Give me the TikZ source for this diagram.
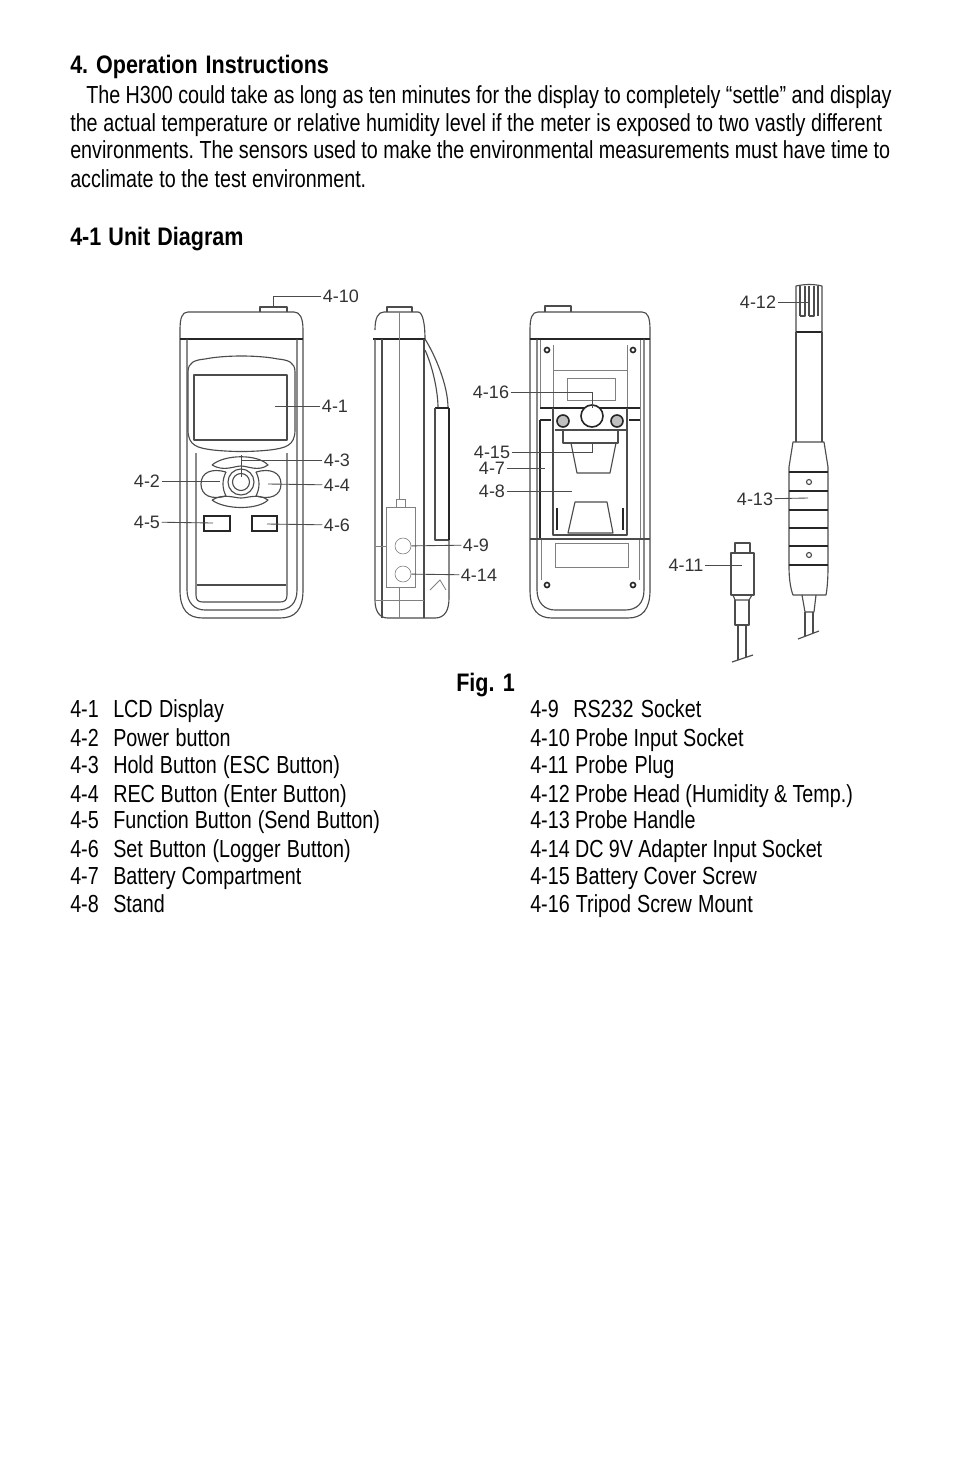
\documentclass[tikz,border=0pt]{standalone}
\usepackage{fontspec}
\setmainfont[FakeStretch=0.8]{Liberation Sans}
\newfontfamily\tagfont{Liberation Sans}
\newfontfamily\headfont[FakeStretch=0.85]{Liberation Sans}
\newcommand{\fit}[2]{\makebox[#1][s]{#2}}
\tikzset{
	body/.style={anchor=base west, inner sep=0pt, font=\fontsize{18.5}{20}\selectfont\frenchspacing},
	head/.style={anchor=base west, inner sep=0pt, font=\fontsize{19}{20}\headfont\bfseries\frenchspacing},
	tag/.style={inner sep=1pt, text=black!80, font=\fontsize{13.5}{14}\tagfont},
	lead/.style={draw=black!70, line width=0.65pt},
	part/.style={draw=black!70, line width=0.85pt, line join=round},
	thin part/.style={draw=black!50, line width=0.6pt},
	thick part/.style={draw=black!85, line width=1.2pt}
}
\begin{document}
\begin{tikzpicture}[x=0.75pt,y=-0.75pt]
	\useasboundingbox [fill=white] (0,0) rectangle (954,1475);

	% page text
	\node [head] (t1) at (70,73) {\fit{194pt}{4. Operation Instructions}};
	\node [body] (t2) at (86,103) {\fit{604pt}{The H300 could take as long as ten minutes for the display to completely “settle” and display}};
	\node [body] (t3) at (70,131) {\fit{609pt}{the actual temperature or relative humidity level if the meter is exposed to two vastly different}};
	\node [body] (t4) at (70,158) {\fit{615pt}{environments. The sensors used to make the environmental measurements must have time to}};
	\node [body] (t5) at (70,187) {\fit{222pt}{acclimate to the test environment.}};
	\node [head] (t6) at (70,245) {\fit{130pt}{4-1 Unit Diagram}};
	\node [head] (fig) at (456,691) {\fit{44pt}{Fig. 1}};

	\foreach \y/\n/\w/\t in {717/1/83/LCD Display, 746/2/88/Power button, 773/3/170/Hold Button (ESC Button),
		802/4/175/REC Button (Enter Button), 828/5/200/Function Button (Send Button),
		857/6/178/Set Button (Logger Button), 884/7/141/Battery Compartment, 912/8/39/Stand}
	{
		\node [body] (a\n) at (70,\y) {4-\n};
		\node [body] (b\n) at (113,\y) {\fit{\w pt}{\t}};
	}
	\node [body] (a9) at (530,717) {4-9};
	\node [body] (b9) at (573,717) {\fit{96pt}{RS232 Socket}};
	\foreach \y/\n/\w/\t in {746/10/160/Probe Input Socket, 773/11/108/Probe Plug,
		802/12/242/Probe Head (Humidity \& Temp.), 828/13/124/Probe Handle,
		857/14/219/DC 9V Adapter Input Socket, 884/15/170/Battery Cover Screw, 912/16/167/Tripod Screw Mount}
	{
		\node [body] (a\n) at (530,\y) {\fit{\w pt}{4-\n\ \t}};
	}

	% front view
	\draw [part] (180,330) .. controls (180,318) and (182,312) .. (188,312) -- (294,312)
		.. controls (300,312) and (303,318) .. (303,330) -- (303,590)
		.. controls (303,610) and (295,618) .. (280,618) -- (203,618)
		.. controls (188,618) and (180,610) .. (180,590) -- cycle;
	\draw [thick part] (180,339) -- (303,339);
	\draw [part] (187,339) -- (187,590) .. controls (187,603) and (195,610) .. (205,610) -- (278,610)
		.. controls (290,610) and (297,603) .. (297,590) -- (297,339);
	\draw [part] (188,372) .. controls (188,362) and (195,360) .. (205,359)
		.. controls (225,355) and (258,355) .. (278,359)
		.. controls (288,360) and (295,362) .. (295,372) -- (295,430)
		.. controls (295,446) and (285,448) .. (270,450)
		.. controls (250,452) and (233,452) .. (213,450)
		.. controls (198,448) and (188,446) .. (188,430) -- cycle;
	\draw [part] (194,375) rectangle (287,440);
	\draw [part] (196,453) -- (196,595) .. controls (196,600) and (198,602) .. (203,602) -- (280,602)
		.. controls (285,602) and (287,600) .. (287,595) -- (287,453);
	\draw [part] (197,585) -- (286,585);
	\draw [part] (241,482) circle (8.5);
	\draw [part] (241,482) circle (13);
	\draw [part] (226,472) .. controls (212,468) and (201,472) .. (201,484)
		.. controls (201,496) and (212,500) .. (226,496) .. controls (222,488) and (222,480) .. (226,472);
	\draw [part] (256,472) .. controls (270,468) and (281,472) .. (281,484)
		.. controls (281,496) and (270,500) .. (256,496) .. controls (260,488) and (260,480) .. (256,472);
	\draw [part] (212,465) .. controls (225,454) and (258,454) .. (268,465)
		.. controls (258,472) and (248,466) .. (241,466) .. controls (234,466) and (224,472) .. (212,465);
	\draw [part] (212,500) .. controls (224,493) and (234,498) .. (241,498)
		.. controls (248,498) and (258,493) .. (268,500) .. controls (258,510) and (225,510) .. (212,500);
	\draw [thick part] (204,516) rectangle (230,531);
	\draw [thick part] (252,516) rectangle (277,531);
	\draw [part] (260,312) -- (260,307) -- (287,307) -- (287,312);

	% side view
	\draw [part] (375,330) .. controls (375,318) and (378,312) .. (384,312) -- (418,312)
		.. controls (423,312) and (425,325) .. (425,339) -- (375,339);
	\draw [thick part] (373,339) -- (425,339);
	\draw [part] (375,339) -- (375,600) .. controls (375,612) and (380,618) .. (388,618) -- (435,618)
		.. controls (445,618) and (449,610) .. (449,598) -- (449,540);
	\draw [part] (425,339) .. controls (435,355) and (448,385) .. (448,408);
	\draw [part] (425,350) .. controls (432,365) and (438,390) .. (438,408);
	\draw [part] (424,339) -- (424,618);
	\draw [part] (382,339) -- (382,618);
	\draw [thin part] (399,312) -- (399,499);
	\draw [thin part] (399,587) -- (399,618);
	\draw [thick part] (435,408) -- (449,408);
	\draw [part] (435,408) -- (435,540) -- (449,540);
	\draw [thick part] (449,408) -- (449,540);
	\draw [part] (387,312) -- (387,307) -- (412,307) -- (412,312);
	\draw [thin part] (386,507) rectangle (415,587);
	\draw [thin part] (396,507) -- (396,499) -- (405,499) -- (405,507);
	\draw [thin part] (376,546) -- (386,546);
	\draw [thin part] (376,600) -- (424,600);
	\draw [thin part] (430,590) -- (440,580) -- (446,590);
	\node [draw=black!55, circle, minimum size=12pt, inner sep=0pt] (rs) at (403,546) {};
	\node [draw=black!55, circle, minimum size=12pt, inner sep=0pt] (dc) at (403,574) {};

	% back view
	\draw [part] (530,330) .. controls (530,318) and (532,312) .. (538,312) -- (642,312)
		.. controls (648,312) and (650,318) .. (650,330) -- (650,590)
		.. controls (650,610) and (642,618) .. (628,618) -- (552,618)
		.. controls (538,618) and (530,610) .. (530,590) -- cycle;
	\draw [thick part] (530,339) -- (650,339);
	\draw [part] (537,339) -- (537,590) .. controls (537,603) and (545,610) .. (555,610) -- (625,610)
		.. controls (637,610) and (644,603) .. (644,590) -- (644,339);
	\draw [part] (545,312) -- (545,306) -- (571,306) -- (571,312);
	\draw [thin part] (540,340) -- (540,408);
	\draw [thin part] (640,340) -- (640,539);
	\draw [thin part] (553,345) -- (553,408);
	\draw [thin part] (627,345) -- (627,408);
	\draw [thin part] (541,539) -- (541,580);
	\draw [thin part] (639,539) -- (639,580);
	\draw [thin part] (553,370) -- (627,370);
	\draw [thin part] (567,378) rectangle (615,400);
	\draw [thick part] (540,408) -- (640,408);
	\draw [thick part] (540,420) -- (551,420);
	\draw [thick part] (629,420) -- (640,420);
	\draw [thick part] (540,420) -- (540,539);
	\draw [part] (553,408) -- (553,535) -- (627,535) -- (627,408);
	\draw [part] (530,539) -- (650,539);
	\draw [thin part] (555,543) rectangle (628,567);
	\draw [thick part, fill=white] (592,416) circle (11);
	\draw [thick part, fill=black!25] (563,421) circle (6);
	\draw [thick part, fill=black!25] (617,421) circle (6);
	\draw [part] (555,430) -- (626,430);
	\draw [part] (563,430) -- (563,443) -- (618,443) -- (618,430);
	\draw [part] (571,443) -- (577,473) -- (610,473) -- (616,443);
	\draw [part] (575,502) -- (607,502) -- (613,533) -- (568,533) -- cycle;
	\draw [thick part] (557,508) -- (557,530);
	\draw [thick part] (623,508) -- (623,530);
	\foreach \x/\y in {547/350, 633/350, 547/585, 633/585}
		\draw [thick part] (\x,\y) circle (2.5);

	% probe
	\draw [part] (796,332) -- (796,286) .. controls (805,284) and (814,284) .. (822,286) -- (822,332);
	\draw [thick part] (796,332) -- (822,332);
	\draw [part] (800,286) -- (800,316);
	\draw [part] (805,286) -- (805,316) -- (800,316);
	\draw [part] (809,286) -- (809,316);
	\draw [part] (814,286) -- (814,316) -- (809,316);
	\draw [part] (818,286) -- (818,316);
	\draw [part] (796,332) -- (796,442);
	\draw [part] (822,332) -- (822,442);
	\draw [part] (793,442) -- (824,442) -- (828,467) -- (828,567) .. controls (828,580) and (827,590) .. (826,595)
		-- (793,595) .. controls (791,590) and (789,580) .. (789,567) -- (789,467) -- cycle;
	\foreach \y in {472, 491, 510, 528, 546, 565}
		\draw [thick part] (789,\y) -- (828,\y);
	\draw [part] (809,482) circle (2.5);
	\draw [part] (809,555) circle (2.5);
	\draw [part] (802,595) -- (805,612) -- (814,612) -- (816,595);
	\draw [part] (805,612) -- (805,636);
	\draw [part] (813,612) -- (813,633);
	\draw [part] (798,639) -- (819,631);

	% plug
	\draw [part] (735,553) -- (735,543) -- (750,543) -- (750,553);
	\draw [part] (731,553) -- (754,553) -- (754,595) -- (731,595) -- cycle;
	\draw [part] (733,595) -- (735,600) -- (749,600) -- (752,595);
	\draw [part] (735,600) -- (735,625) -- (749,625) -- (749,600);
	\draw [part] (738,625) -- (738,660);
	\draw [part] (746,625) -- (746,657);
	\draw [part] (732,662) -- (753,655);

	% labels and leaders
	\node [tag] (l1) at (335,406) {4-1};
	\node [tag] (l2) at (147,481) {4-2};
	\node [tag] (l3) at (337,460) {4-3};
	\node [tag] (l4) at (337,485) {4-4};
	\node [tag] (l5) at (147,522) {4-5};
	\node [tag] (l6) at (337,525) {4-6};
	\node [tag] (l7) at (492,468) {4-7};
	\node [tag] (l8) at (492,491) {4-8};
	\node [tag] (l9) at (476,545) {4-9};
	\node [tag] (l10) at (341,296) {4-10};
	\node [tag] (l11) at (686,565) {4-11};
	\node [tag] (l12) at (758,302) {4-12};
	\node [tag] (l13) at (755,499) {4-13};
	\node [tag] (l14) at (479,575) {4-14};
	\node [tag] (l15) at (492,452) {4-15};
	\node [tag] (l16) at (491,392) {4-16};
	\coordinate (p1) at (275,406);
	\coordinate (p2) at (220,481);
	\coordinate (p3) at (241,477);
	\coordinate (q3) at (241,455);
	\coordinate (p4) at (268,484);
	\coordinate (p5) at (213,523);
	\coordinate (p6) at (267,524);
	\coordinate (p7) at (545,468);
	\coordinate (p8) at (572,491);
	\coordinate (p10) at (273,307);
	\coordinate (p11) at (742,565);
	\coordinate (p12) at (808,302);
	\coordinate (p13) at (808,498);
	\coordinate (p15) at (592,443);
	\coordinate (p16) at (592,408);
	\draw [lead] (l1) -- (p1);
	\draw [lead] (l2) -- (p2);
	\draw [lead] (l3) -| (p3);
	\draw [lead] (q3) -- (p3);
	\draw [lead] (l4) -- (p4);
	\draw [lead] (l5) -- (p5);
	\draw [lead] (l6) -- (p6);
	\draw [lead] (l7) -- (p7);
	\draw [lead] (l8) -- (p8);
	\draw [lead] (l9) -- (rs);
	\draw [lead] (l10) -| (p10);
	\draw [lead] (l11) -- (p11);
	\draw [lead] (l12) -- (p12);
	\draw [lead] (l13) -- (p13);
	\draw [lead] (l14) -- (dc);
	\draw [lead] (l15) -| (p15);
	\draw [lead] (l16) -| (p16);
\end{tikzpicture}
\end{document}
